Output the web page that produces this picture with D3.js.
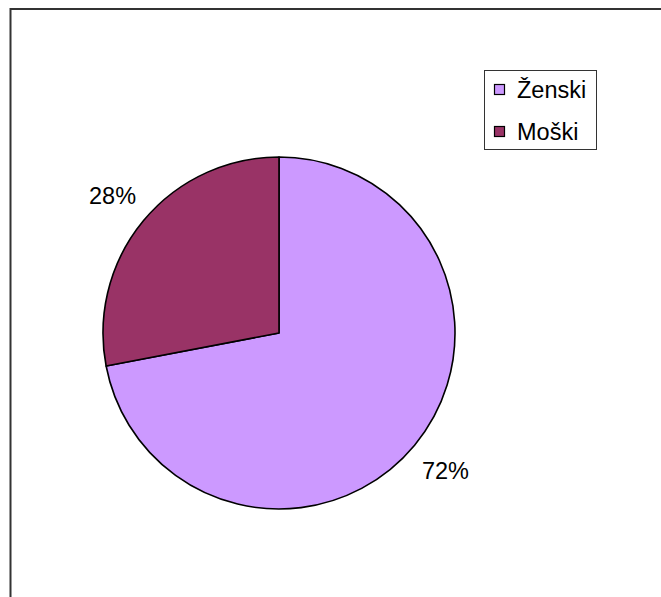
<!DOCTYPE html>
<html>
<head>
<meta charset="utf-8">
<script src="https://cdn.jsdelivr.net/npm/d3@7"></script>
<style>
  html, body { margin: 0; padding: 0; background: #fff; }
  svg { display: block; }
  text { font-family: "Liberation Sans", Arial, sans-serif; fill: #000; }
</style>
</head>
<body>
<svg id="chart" width="661" height="597"></svg>
<script>
// Gender split
const categories = ["Ženski", "Moški"];
const values = [72, 28];
const labels = ["72%", "28%"];
const colors = ["#CC99FF", "#993366"];

const svg = d3.select("#chart");
const W = 661, H = 597;

// Outer chart frame (runs past the right and bottom edges)
svg.append("rect")
  .attr("x", 10.5).attr("y", 9)
  .attr("width", W + 20).attr("height", H + 20)
  .attr("fill", "#fff")
  .attr("stroke", "#333").attr("stroke-width", 2);

const cx = 279, cy = 333, r = 176;
const g = svg.append("g").attr("transform", `translate(${cx},${cy})`);

const pie = d3.pie().sort(null).value(d => d.v);
const data = categories.map((c, i) => ({ c, v: values[i], label: labels[i], color: colors[i] }));
const arcs = pie(data);

const arc = d3.arc().innerRadius(0).outerRadius(r);
const labelArc = d3.arc().innerRadius(216).outerRadius(216);

g.selectAll("path.slice")
  .data(arcs)
  .join("path")
  .attr("class", "slice")
  .attr("d", arc)
  .attr("fill", d => d.data.color)
  .attr("stroke", "#000")
  .attr("stroke-width", 1.6)
  .attr("stroke-linejoin", "round");

g.selectAll("text.pct")
  .data(arcs)
  .join("text")
  .attr("class", "pct")
  .attr("transform", d => `translate(${labelArc.centroid(d)})`)
  .attr("text-anchor", "middle")
  .attr("dy", "0.36em")
  .attr("font-size", 23.5)
  .text(d => d.data.label);

// Legend
const legend = svg.append("g");
legend.append("rect")
  .attr("x", 484.5).attr("y", 70.5)
  .attr("width", 112).attr("height", 79)
  .attr("fill", "#fff")
  .attr("stroke", "#333").attr("stroke-width", 1);

const rowY = d3.scalePoint().domain(categories).range([89.5, 131.5]);

const items = legend.selectAll("g.item")
  .data(data)
  .join("g")
  .attr("class", "item")
  .attr("transform", d => `translate(0,${rowY(d.c)})`);

items.append("rect")
  .attr("x", 494.5).attr("y", -5)
  .attr("width", 10).attr("height", 10)
  .attr("fill", d => d.color)
  .attr("stroke", "#000").attr("stroke-width", 1.2);

items.append("text")
  .attr("x", 517)
  .attr("y", 0)
  .attr("dy", "0.36em")
  .attr("font-size", 23.5)
  .text(d => d.c);
</script>
</body>
</html>
